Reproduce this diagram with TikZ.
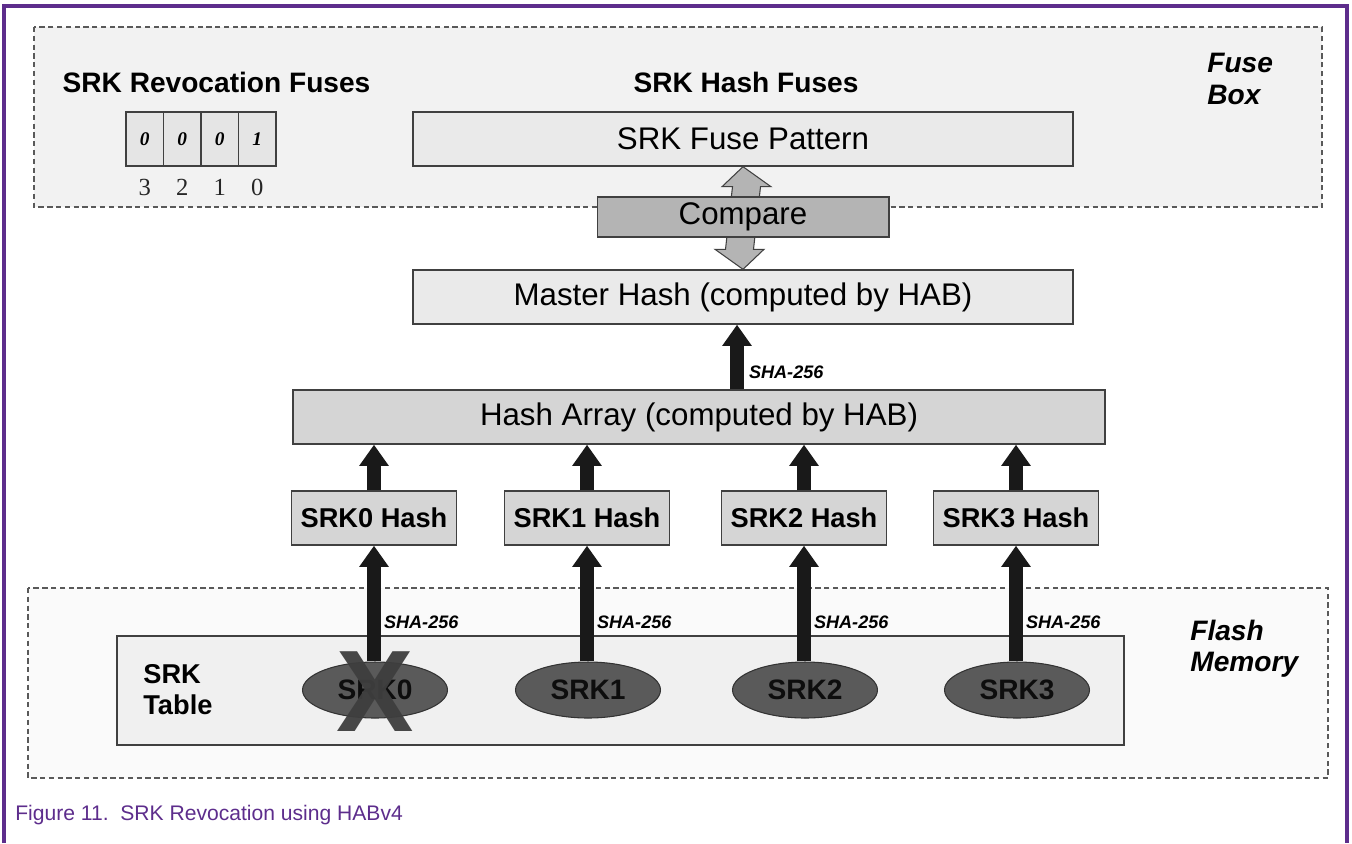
\documentclass[tikz,border=0pt]{standalone}
\usepackage{fontspec}
\setmainfont{Liberation Sans}
\newfontfamily\fuseserif{Liberation Serif}
\usepackage{tikz}
\usetikzlibrary{calc,arrows.meta,shapes.geometric}

\definecolor{capviolet}{RGB}{93,45,140}
\definecolor{boxline}{RGB}{64,64,64}
\definecolor{palebox}{RGB}{234,234,234}
\definecolor{midbox}{RGB}{213,213,213}
\definecolor{cmpgray}{RGB}{180,180,180}
\definecolor{keygray}{RGB}{90,90,90}
\definecolor{crossgray}{RGB}{62,62,62}

\begin{document}
\begin{tikzpicture}[x=0.02cm,y=-0.02cm,
    region/.style={draw=black!65,dash pattern=on 3pt off 2pt,line width=0.6pt},
    title/.style={font=\fontsize{16}{18}\selectfont\bfseries,anchor=base,inner sep=0pt},
    side/.style={font=\fontsize{16}{18}\selectfont\bfseries\itshape,align=left,anchor=base west,inner sep=0pt},
    pale/.style={draw=boxline,line width=0.8pt,fill=palebox,minimum width=13.2cm,minimum height=1.08cm,inner sep=0pt,font=\fontsize{17.8}{20}\selectfont},
    hashbox/.style={draw=boxline,line width=0.8pt,fill=midbox,minimum width=3.3cm,minimum height=1.08cm,inner sep=0pt,font=\fontsize{15.5}{18}\selectfont\bfseries},
    fuse/.style={draw=boxline,line width=0.8pt,fill=black!10,minimum width=0.75cm,minimum height=1.08cm,inner sep=0pt,font=\fuseserif\fontsize{11}{12}\selectfont\bfseries\itshape},
    srkkey/.style={ellipse,draw=black!80,line width=0.6pt,fill=keygray,minimum width=2.9cm,minimum height=1.12cm,inner sep=0pt,text=black!95,font=\fontsize{16}{18}\selectfont\bfseries},
    fatarrow/.style={draw=black!90,line width=8pt,-{Triangle[length=12pt,width=16pt]}},
    sha/.style={font=\fontsize{10.3}{12}\selectfont\bfseries\itshape,anchor=west,inner sep=0pt}
]
    \useasboundingbox (0,0) rectangle (1352,843);
    \draw[capviolet,line width=1.8pt] (4,843) -- (4,6) -- (1347,6) -- (1347,843);
    \path[region,fill=black!5] (34,27) rectangle (1322,207);
    \path[region,fill=black!2] (28,588) rectangle (1328,778);

    \node[title] (revtitle) at (216.5,92) {SRK Revocation Fuses};
    \foreach \bit/\val [count=\i from 0] in {3/0,2/0,1/0,0/1} {
        \node[fuse] (bit\bit) at (144.75+37.5*\i,139) {\val};
        \node[font=\fuseserif\fontsize{14}{16}\selectfont,text=black!85] (idx\bit) at (144.75+37.5*\i,187) {\bit};
    }
    \node[title] (hashtitle) at (746,92) {SRK Hash Fuses};
    \node[side] (fuselbl) at (1207,104) {Fuse\\Box};
    \node[pale] (pattern) at (743,139) {SRK Fuse Pattern};
    \node[pale] (master) at (743,297) {Master Hash (computed by HAB)};

    \path[draw=boxline,line width=0.6pt,fill=cmpgray] (pattern.south) -- ++(28,20) -- ++(-10.5,0)
        -- ($(master.north)+(10.5,-20)$) -- ++(10.5,0) -- (master.north) -- ++(-28,-20) -- ++(10.5,0)
        -- ($(pattern.south)+(-10.5,20)$) -- ++(-10.5,0) -- cycle;
    \node[draw=boxline,line width=0.6pt,fill=cmpgray,minimum width=5.84cm,minimum height=0.8cm,inner sep=0pt,font=\fontsize{17.8}{20}\selectfont] (compare) at (743,217) {Compare};

    \node[pale,fill=midbox,minimum width=16.24cm] (array) at (699,417) {Hash Array (computed by HAB)};
    \draw[fatarrow] ([xshift=-0.12cm]master.south |- array.north) -- node[sha,pos=0.27,xshift=0.1cm] {SHA-256} ([xshift=-0.12cm]master.south);

    \node[draw=boxline,line width=0.8pt,fill=black!6,minimum width=20.14cm,minimum height=2.18cm,inner sep=0pt] (table) at (620.5,690.5) {};
    \node[font=\fontsize{15.5}{17.6}\selectfont\bfseries,align=left,anchor=west,inner sep=0pt] (tabletitle) at (143,690) {SRK\\Table};
    \node[side,font=\fontsize{16}{17.5}\selectfont\bfseries\itshape] (flashlbl) at (1190,671) {Flash\\Memory};

    \foreach \k/\x in {0/374,1/587,2/804,3/1016} {
        \node[hashbox] (hash\k) at (\x,518) {SRK\k\ Hash};
        \node[srkkey] (srk\k) at (\x+1,690) {SRK\k};
        \draw[fatarrow] (hash\k.north) -- (hash\k.north |- array.south);
        \draw[fatarrow] (srk\k.north -| hash\k) -- node[sha,pos=0.34,xshift=0.06cm] {SHA-256} (hash\k.south);
    }
    \node[text=crossgray,opacity=0.95,font=\fontsize{66}{66}\selectfont\bfseries,inner sep=0pt] (revoked) at (375,692) {X};

    \node[anchor=west,text=capviolet,font=\fontsize{12}{14}\selectfont,inner sep=0pt] (caption) at (15,815) {Figure 11.\ \ SRK Revocation using HABv4};
\end{tikzpicture}
\end{document}
